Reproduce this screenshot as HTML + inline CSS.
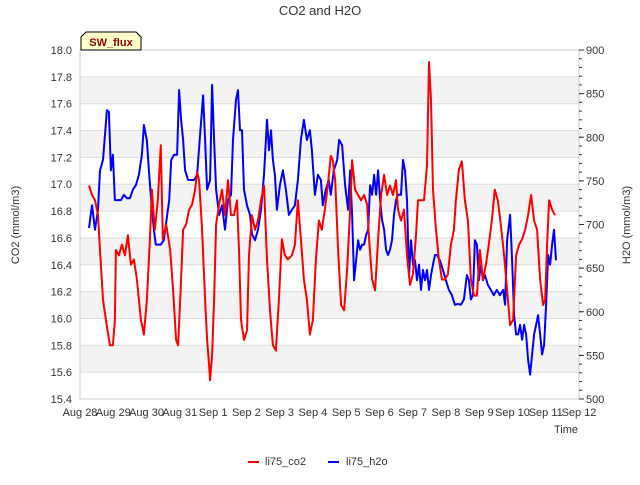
<!DOCTYPE html>
<html><head><meta charset="utf-8"><style>
body{margin:0;background:#fff}
svg{font-family:"Liberation Sans","DejaVu Sans",sans-serif}
</style></head><body>
<svg id="chart" width="640" height="480" xmlns="http://www.w3.org/2000/svg">
<text x="320" y="15" text-anchor="middle" font-size="13" fill="#333">CO2 and H2O</text>
<g id="bands"></g>
<g id="grid"></g>
<g id="series"></g>
<rect x="80" y="50" width="499" height="349" fill="none" stroke="#ccc"/>
<g id="axes"></g>
<g>
<path d="M81,50 L81,37 L86,32 L136,32 L141,37 L141,50 Z" fill="#ffffcc" stroke="#000"/>
<text x="111" y="46" text-anchor="middle" font-size="11" font-weight="bold" fill="#8b0000">SW_flux</text>
</g>
<text transform="translate(19,225) rotate(-90)" text-anchor="middle" font-size="11" fill="#333">CO2 (mmol/m3)</text>
<text transform="translate(630,225) rotate(-90)" text-anchor="middle" font-size="11" fill="#333">H2O (mmol/m3)</text>
<text x="566" y="433" text-anchor="middle" font-size="11" fill="#333">Time</text>
<g>
<g><line x1="248" y1="462" x2="259" y2="462" stroke="#f00" stroke-width="2"/><text x="265" y="465" font-size="11" fill="#333">li75_co2</text></g>
<g><line x1="328" y1="462" x2="339" y2="462" stroke="#00f" stroke-width="2"/><text x="346" y="465" font-size="11" fill="#333">li75_h2o</text></g>
</g>
</svg>
<script>
const xLabels=["Aug 28","Aug 29","Aug 30","Aug 31","Sep 1","Sep 2","Sep 3","Sep 4","Sep 5","Sep 6","Sep 7","Sep 8","Sep 9","Sep 10","Sep 11","Sep 12"];
const leftTicks=[15.4,15.6,15.8,16.0,16.2,16.4,16.6,16.8,17.0,17.2,17.4,17.6,17.8,18.0];
const rightTicks=[500,550,600,650,700,750,800,850,900];
const co2Days=[0.27,0.36,0.45,0.54,0.60,0.69,0.78,0.90,0.99,1.05,1.08,1.17,1.26,1.35,1.44,1.53,1.62,1.71,1.83,1.92,2.01,2.10,2.16,2.25,2.34,2.43,2.49,2.59,2.71,2.80,2.89,2.95,3.04,3.10,3.19,3.28,3.37,3.46,3.52,3.58,3.67,3.76,3.82,3.88,3.91,3.97,4.03,4.09,4.18,4.27,4.36,4.45,4.54,4.63,4.72,4.78,4.84,4.93,5.02,5.08,5.17,5.26,5.35,5.44,5.53,5.62,5.71,5.80,5.89,5.98,6.07,6.16,6.25,6.37,6.46,6.55,6.64,6.73,6.82,6.91,7.00,7.09,7.18,7.27,7.36,7.45,7.54,7.60,7.67,7.76,7.85,7.94,8.03,8.12,8.18,8.27,8.36,8.45,8.54,8.63,8.69,8.78,8.87,8.96,9.05,9.14,9.23,9.32,9.41,9.50,9.56,9.65,9.74,9.83,9.92,10.01,10.10,10.16,10.25,10.34,10.43,10.49,10.55,10.61,10.70,10.79,10.88,10.97,11.06,11.15,11.24,11.30,11.39,11.48,11.57,11.66,11.75,11.84,11.93,12.02,12.11,12.20,12.29,12.38,12.47,12.56,12.65,12.75,12.84,12.93,13.02,13.11,13.20,13.29,13.38,13.47,13.56,13.65,13.74,13.83,13.92,13.98,14.04,14.10,14.19,14.28];
const co2Vals=[16.99,16.92,16.88,16.77,16.51,16.14,15.99,15.80,15.80,15.99,16.51,16.47,16.55,16.47,16.62,16.40,16.44,16.29,15.99,15.88,16.14,16.59,16.96,16.66,16.88,17.29,16.59,16.70,16.51,16.21,15.84,15.80,16.29,16.66,16.70,16.81,16.85,16.96,17.09,17.03,16.66,16.14,15.84,15.65,15.54,15.73,16.14,16.70,16.85,16.96,16.77,17.03,16.77,16.77,16.88,16.51,15.99,15.84,15.91,16.47,16.77,16.66,16.73,16.88,16.99,16.44,16.06,15.80,15.76,16.14,16.59,16.47,16.44,16.47,16.55,16.88,16.59,16.29,16.14,15.88,15.99,16.44,16.73,16.66,16.81,16.99,17.21,17.18,17.03,16.51,16.10,16.06,16.36,16.81,17.18,16.96,16.92,16.88,16.92,16.85,16.59,16.29,16.21,16.59,16.92,17.07,16.92,16.99,16.92,17.03,16.81,16.73,16.81,16.47,16.25,16.33,16.62,16.88,16.88,16.88,17.14,17.91,17.63,16.96,16.66,16.44,16.29,16.29,16.33,16.55,16.66,16.88,17.11,17.17,16.88,16.73,16.29,16.17,16.17,16.51,16.29,16.40,16.55,16.73,16.96,16.88,16.70,16.47,16.21,15.95,15.99,16.47,16.55,16.59,16.66,16.77,16.92,16.73,16.66,16.29,16.10,16.14,16.55,16.88,16.81,16.77];
const h2oDays=[0.27,0.36,0.45,0.54,0.60,0.69,0.75,0.81,0.87,0.93,0.99,1.05,1.14,1.23,1.32,1.41,1.50,1.59,1.68,1.77,1.86,1.92,2.01,2.07,2.16,2.22,2.28,2.34,2.43,2.52,2.62,2.68,2.74,2.83,2.92,2.98,3.04,3.10,3.16,3.25,3.34,3.43,3.52,3.61,3.70,3.76,3.82,3.91,3.97,4.03,4.09,4.18,4.27,4.36,4.45,4.54,4.60,4.69,4.75,4.81,4.87,4.93,5.02,5.11,5.17,5.26,5.35,5.44,5.53,5.62,5.68,5.74,5.80,5.86,5.92,6.01,6.10,6.19,6.28,6.37,6.46,6.55,6.64,6.73,6.82,6.91,6.97,7.06,7.15,7.24,7.30,7.39,7.48,7.54,7.63,7.73,7.79,7.88,7.97,8.06,8.12,8.18,8.24,8.30,8.36,8.42,8.48,8.54,8.60,8.66,8.72,8.78,8.84,8.90,8.96,9.02,9.08,9.14,9.20,9.26,9.32,9.38,9.44,9.50,9.56,9.65,9.71,9.77,9.83,9.89,9.95,10.01,10.07,10.13,10.19,10.25,10.31,10.37,10.43,10.49,10.55,10.61,10.67,10.73,10.82,10.91,11.00,11.09,11.18,11.27,11.36,11.45,11.54,11.63,11.69,11.75,11.81,11.87,11.93,11.99,12.05,12.11,12.17,12.26,12.35,12.44,12.53,12.62,12.72,12.78,12.84,12.93,12.99,13.05,13.11,13.17,13.23,13.29,13.35,13.41,13.47,13.53,13.59,13.65,13.71,13.77,13.83,13.89,13.95,14.01,14.07,14.13,14.19,14.25,14.31];
const h2oVals=[696,722,694,717,762,774,803,831,829,762,780,728,728,728,734,730,730,740,745,757,780,814,796,762,717,694,677,677,677,682,711,728,774,780,780,854,820,797,762,751,751,751,757,803,848,797,740,751,860,797,740,711,722,694,728,734,797,843,854,808,808,740,722,711,689,682,694,717,757,820,785,808,774,757,717,745,762,740,711,717,722,751,797,820,797,808,785,734,757,751,722,740,751,734,762,774,797,791,745,717,762,711,636,659,682,671,677,677,688,694,745,734,757,734,762,728,705,694,671,665,671,682,711,728,734,734,774,762,728,642,682,654,659,636,654,625,648,636,648,625,642,654,665,665,659,648,636,625,619,608,609,608,614,642,636,614,619,682,677,636,654,636,642,631,625,619,625,619,625,608,682,711,659,596,574,574,585,568,585,574,545,528,551,574,585,596,574,551,562,608,665,654,677,694,659];

const NS="http://www.w3.org/2000/svg";
const X0=80,X1=579,Y0=50,Y1=399;
function xScale(d){return X0+(X1-X0)*d/15;}
function yLeft(v){return Y1-(Y1-Y0)*(v-15.4)/2.6;}
function yRight(v){return Y1-(Y1-Y0)*(v-500)/400;}
function mk(tag,attrs,parent){const e=document.createElementNS(NS,tag);for(const k in attrs)e.setAttribute(k,attrs[k]);parent.appendChild(e);return e;}
const bands=document.getElementById('bands'),grid=document.getElementById('grid'),axes=document.getElementById('axes'),series=document.getElementById('series');
for(let i=0;i<leftTicks.length-1;i++){
  if(i%2===1){const r=mk('rect',{x:X0,y:yLeft(leftTicks[i+1]),width:X1-X0,height:yLeft(leftTicks[i])-yLeft(leftTicks[i+1]),fill:'#f3f3f3'},bands);
  
  }
}
leftTicks.forEach(v=>{
  const l=mk('line',{x1:X0,x2:X1,y1:yLeft(v),y2:yLeft(v),stroke:'#ddd'},grid);
  
  
  const t=mk('text',{x:72,y:yLeft(v)+4,'text-anchor':'end','font-size':11,fill:'#333'},axes);
  
  
  t.textContent=v.toFixed(1);
});
rightTicks.forEach(v=>{
  const t=mk('text',{x:586,y:yRight(v)+4,'text-anchor':'start','font-size':11,fill:'#333'},axes);
  
  
  t.textContent=v;
  mk('line',{x1:X1,x2:X1+5,y1:yRight(v),y2:yRight(v),stroke:'#333'},axes);
});
for(let v=500;v<=900;v+=10){mk('line',{x1:X1,x2:X1+3,y1:yRight(v),y2:yRight(v),stroke:'#333'},axes);}
xLabels.forEach((s,i)=>{
  const t=mk('text',{x:xScale(i),y:416,'text-anchor':'middle','font-size':11,fill:'#333'},axes);
  
  
  t.textContent=s;
});
function line(days,vals,ys,color,name){
  const d=days.map((x,i)=>(i?'L':'M')+xScale(x).toFixed(1)+','+ys(vals[i]).toFixed(1)).join(' ');
  const p=mk('path',{d:d,fill:'none',stroke:color,'stroke-width':2,'stroke-linejoin':'round'},series);
  
  
}
line(h2oDays,h2oVals,yRight,'#0000ff','h2o-line');
line(co2Days,co2Vals,yLeft,'#ff0000','co2-line');
</script>
</body></html>
